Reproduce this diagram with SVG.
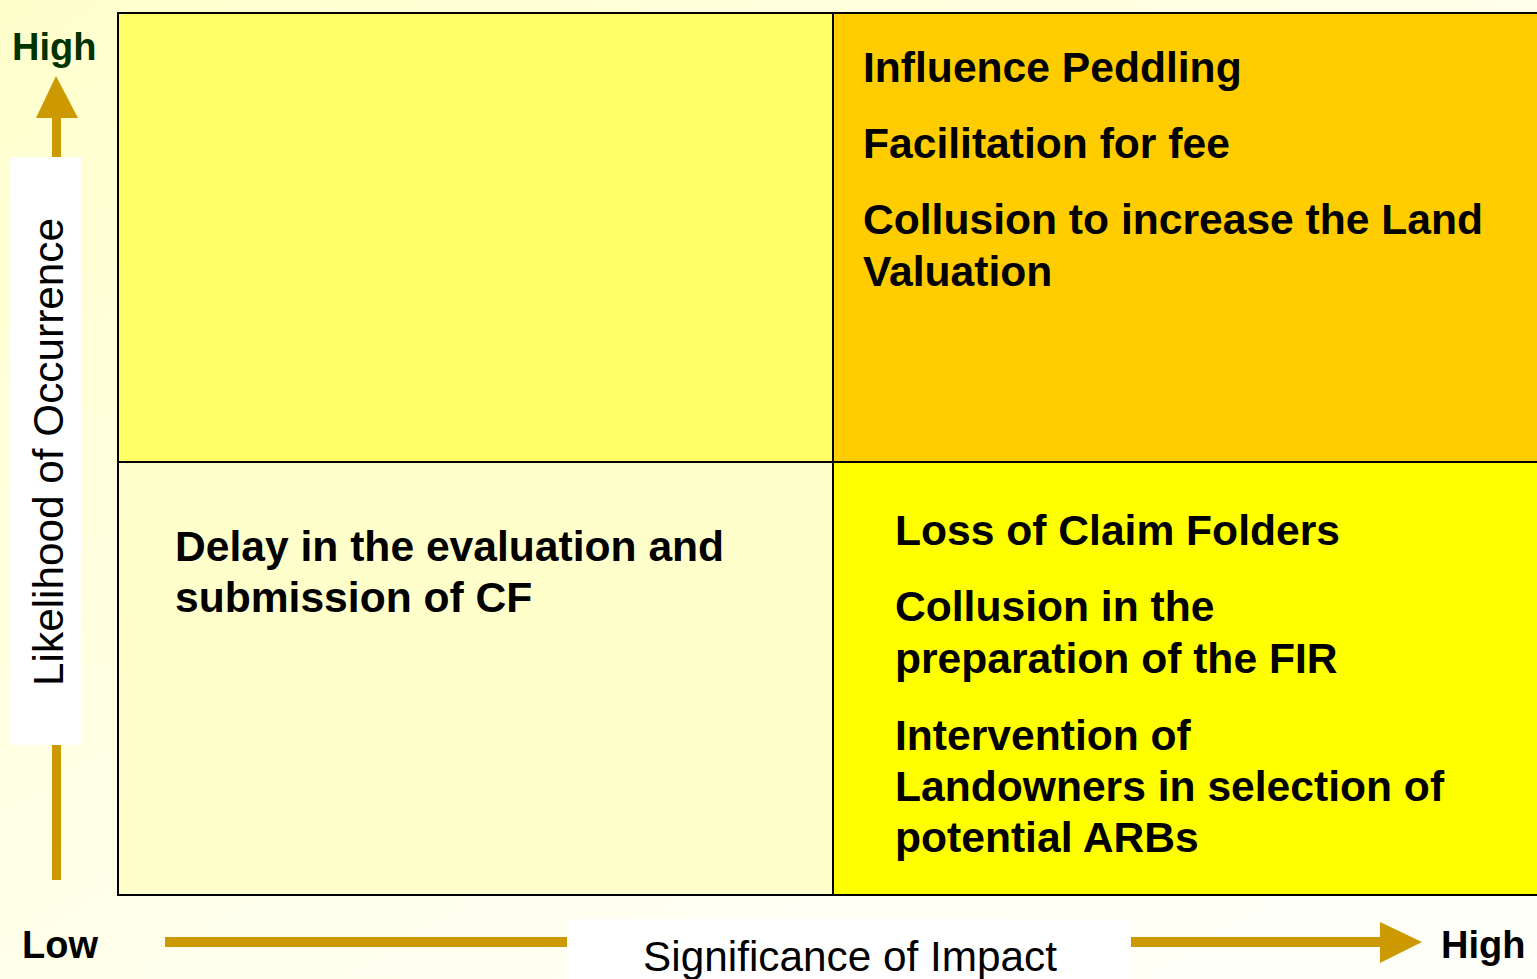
<svg xmlns="http://www.w3.org/2000/svg" width="1537" height="979" viewBox="0 0 1537 979">
<defs>
<linearGradient id="bg" x1="0" y1="0" x2="1" y2="1">
<stop offset="0" stop-color="#FFFFCC"/>
<stop offset="0.6" stop-color="#FFFFF0"/>
<stop offset="1" stop-color="#FFFFFA"/>
</linearGradient>
<style>
.cell{stroke:#000;stroke-width:2}
.t{font-family:"Liberation Sans",Arial,sans-serif;font-weight:bold;font-size:42.6px;fill:#000}
.ax{font-family:"Liberation Sans",Arial,sans-serif;font-size:42.3px;fill:#000}
.lab{font-family:"Liberation Sans",Arial,sans-serif;font-weight:bold;font-size:38px}
.arr{fill:#CC9900}
</style>
</defs>
<rect x="0" y="0" width="1537" height="979" fill="url(#bg)"/>
<g id="q-top-left"><rect class="cell" x="118" y="13" width="715" height="449" fill="#FFFF66"/></g>
<g id="q-top-right"><rect class="cell" x="833" y="13" width="710" height="449" fill="#FFCC00"/>
<text class="t" x="863" y="82">Influence Peddling</text>
<text class="t" x="863" y="158">Facilitation for fee</text>
<text class="t" x="863" y="234">Collusion to increase the Land</text>
<text class="t" x="863" y="286">Valuation</text>
</g>
<g id="q-bottom-left"><rect class="cell" x="118" y="462" width="715" height="433" fill="#FFFFCC"/>
<text class="t" x="175" y="561">Delay in the evaluation and</text>
<text class="t" x="175" y="612">submission of CF</text>
</g>
<g id="q-bottom-right"><rect class="cell" x="833" y="462" width="710" height="433" fill="#FFFF00"/>
<text class="t" x="895" y="545">Loss of Claim Folders</text>
<text class="t" x="895" y="621">Collusion in the</text>
<text class="t" x="895" y="673">preparation of the FIR</text>
<text class="t" x="895" y="750">Intervention of</text>
<text class="t" x="895" y="801">Landowners in selection of</text>
<text class="t" x="895" y="852">potential ARBs</text>
</g>
<g id="connectors">
<rect class="arr" x="52" y="116" width="9" height="764"/>
<polygon class="arr" points="56,76 78,118 36,118"/>
<rect class="arr" x="165" y="937" width="1217" height="10"/>
<polygon class="arr" points="1422,942 1380,922 1380,963"/>
</g>
<g id="y-axis-label">
<rect x="10" y="157" width="71" height="588" fill="#FFFFFF"/>
<text class="ax" transform="translate(63,452) rotate(-90)" text-anchor="middle">Likelihood of Occurrence</text>
</g>
<g id="x-axis-label">
<rect x="567" y="919" width="564" height="60" fill="#FFFFFF"/>
<text class="ax" x="850" y="971" text-anchor="middle">Significance of Impact</text>
</g>
<text class="lab" x="12" y="60" fill="#003300">High</text>
<text class="lab" x="22" y="958" fill="#000">Low</text>
<text class="lab" x="1441" y="958" fill="#000">High</text>
</svg>
